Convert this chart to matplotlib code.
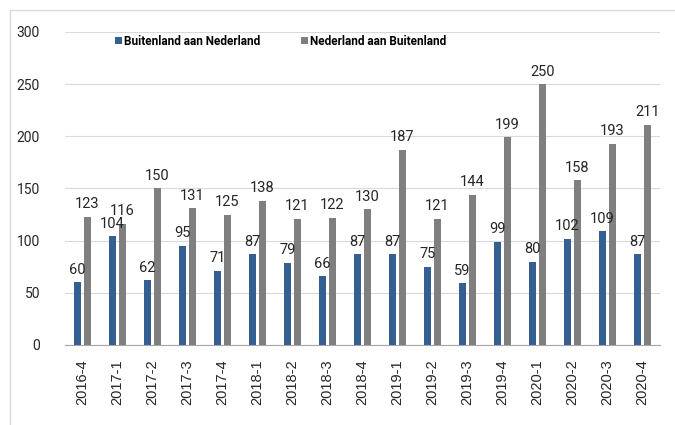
import matplotlib
matplotlib.use("Agg")
import matplotlib.pyplot as plt
from matplotlib.patches import Rectangle
import numpy as np

categories = ["2016-4", "2017-1", "2017-2", "2017-3", "2017-4", "2018-1", "2018-2", "2018-3",
              "2018-4", "2019-1", "2019-2", "2019-3", "2019-4", "2020-1", "2020-2", "2020-3", "2020-4"]
buitenland_aan_nl = [60, 104, 62, 95, 71, 87, 79, 66, 87, 87, 75, 59, 99, 80, 102, 109, 87]
nl_aan_buitenland = [123, 116, 150, 131, 125, 138, 121, 122, 130, 187, 121, 144, 199, 250, 158, 193, 211]
series_names = ["Buitenland aan Nederland", "Nederland aan Buitenland"]

narrow = ["Roboto", "DejaVu Sans"]
blue = "#365f91"
grey = "#7f7f7f"

fig = plt.figure(figsize=(6.75, 4.25), dpi=100)
fig.patches.append(Rectangle((10/675, -0.1), 1.2, 1 - 10/425 + 0.1, transform=fig.transFigure,
                             fill=False, edgecolor="#d9d9d9", linewidth=1.0))
ax = fig.add_axes([65/675, 80/425, 595/675, 313/425])

x = np.arange(len(categories))
w = 0.225
b1 = ax.bar(x - w/2 - 0.03, buitenland_aan_nl, w, color=blue, label=series_names[0], zorder=3)
b2 = ax.bar(x + w/2 + 0.03, nl_aan_buitenland, w, color=grey, label=series_names[1], zorder=3)

for bars, vals in ((b1, buitenland_aan_nl), (b2, nl_aan_buitenland)):
    for r, v in zip(bars, vals):
        ax.annotate(str(v), (r.get_x() + r.get_width()/2, v), xytext=(0, 4), textcoords="offset points",
                    ha="center", va="bottom", fontsize=10.5, family=narrow, color="#262626")

ax.set_xlim(-0.5, len(categories) - 0.5)
ax.set_ylim(0, 300)
ax.set_yticks(range(0, 301, 50))
ax.yaxis.grid(True, color="#d9d9d9", linewidth=0.8, zorder=0)
ax.set_axisbelow(True)
for s in ["top", "right", "left"]:
    ax.spines[s].set_visible(False)
ax.spines["bottom"].set_color("#a6a6a6")
ax.tick_params(axis="y", length=0, pad=18, labelsize=10, labelcolor="#262626")
for t in ax.get_yticklabels():
    t.set_family(narrow)
ax.set_xticks(x)
ax.set_xticklabels(categories, rotation=90, fontsize=10.5, color="#262626", family=["Liberation Sans", "DejaVu Sans"])
ax.tick_params(axis="x", length=0, pad=10)

leg = ax.legend(loc="upper left", bbox_to_anchor=(0.066, 1.025), ncol=2, frameon=False,
                prop={"family": narrow, "weight": "bold", "size": 8.5},
                handlelength=0.6, handleheight=0.6, handletextpad=0.2, columnspacing=3.4)

fig.savefig("out.png", dpi=100)
